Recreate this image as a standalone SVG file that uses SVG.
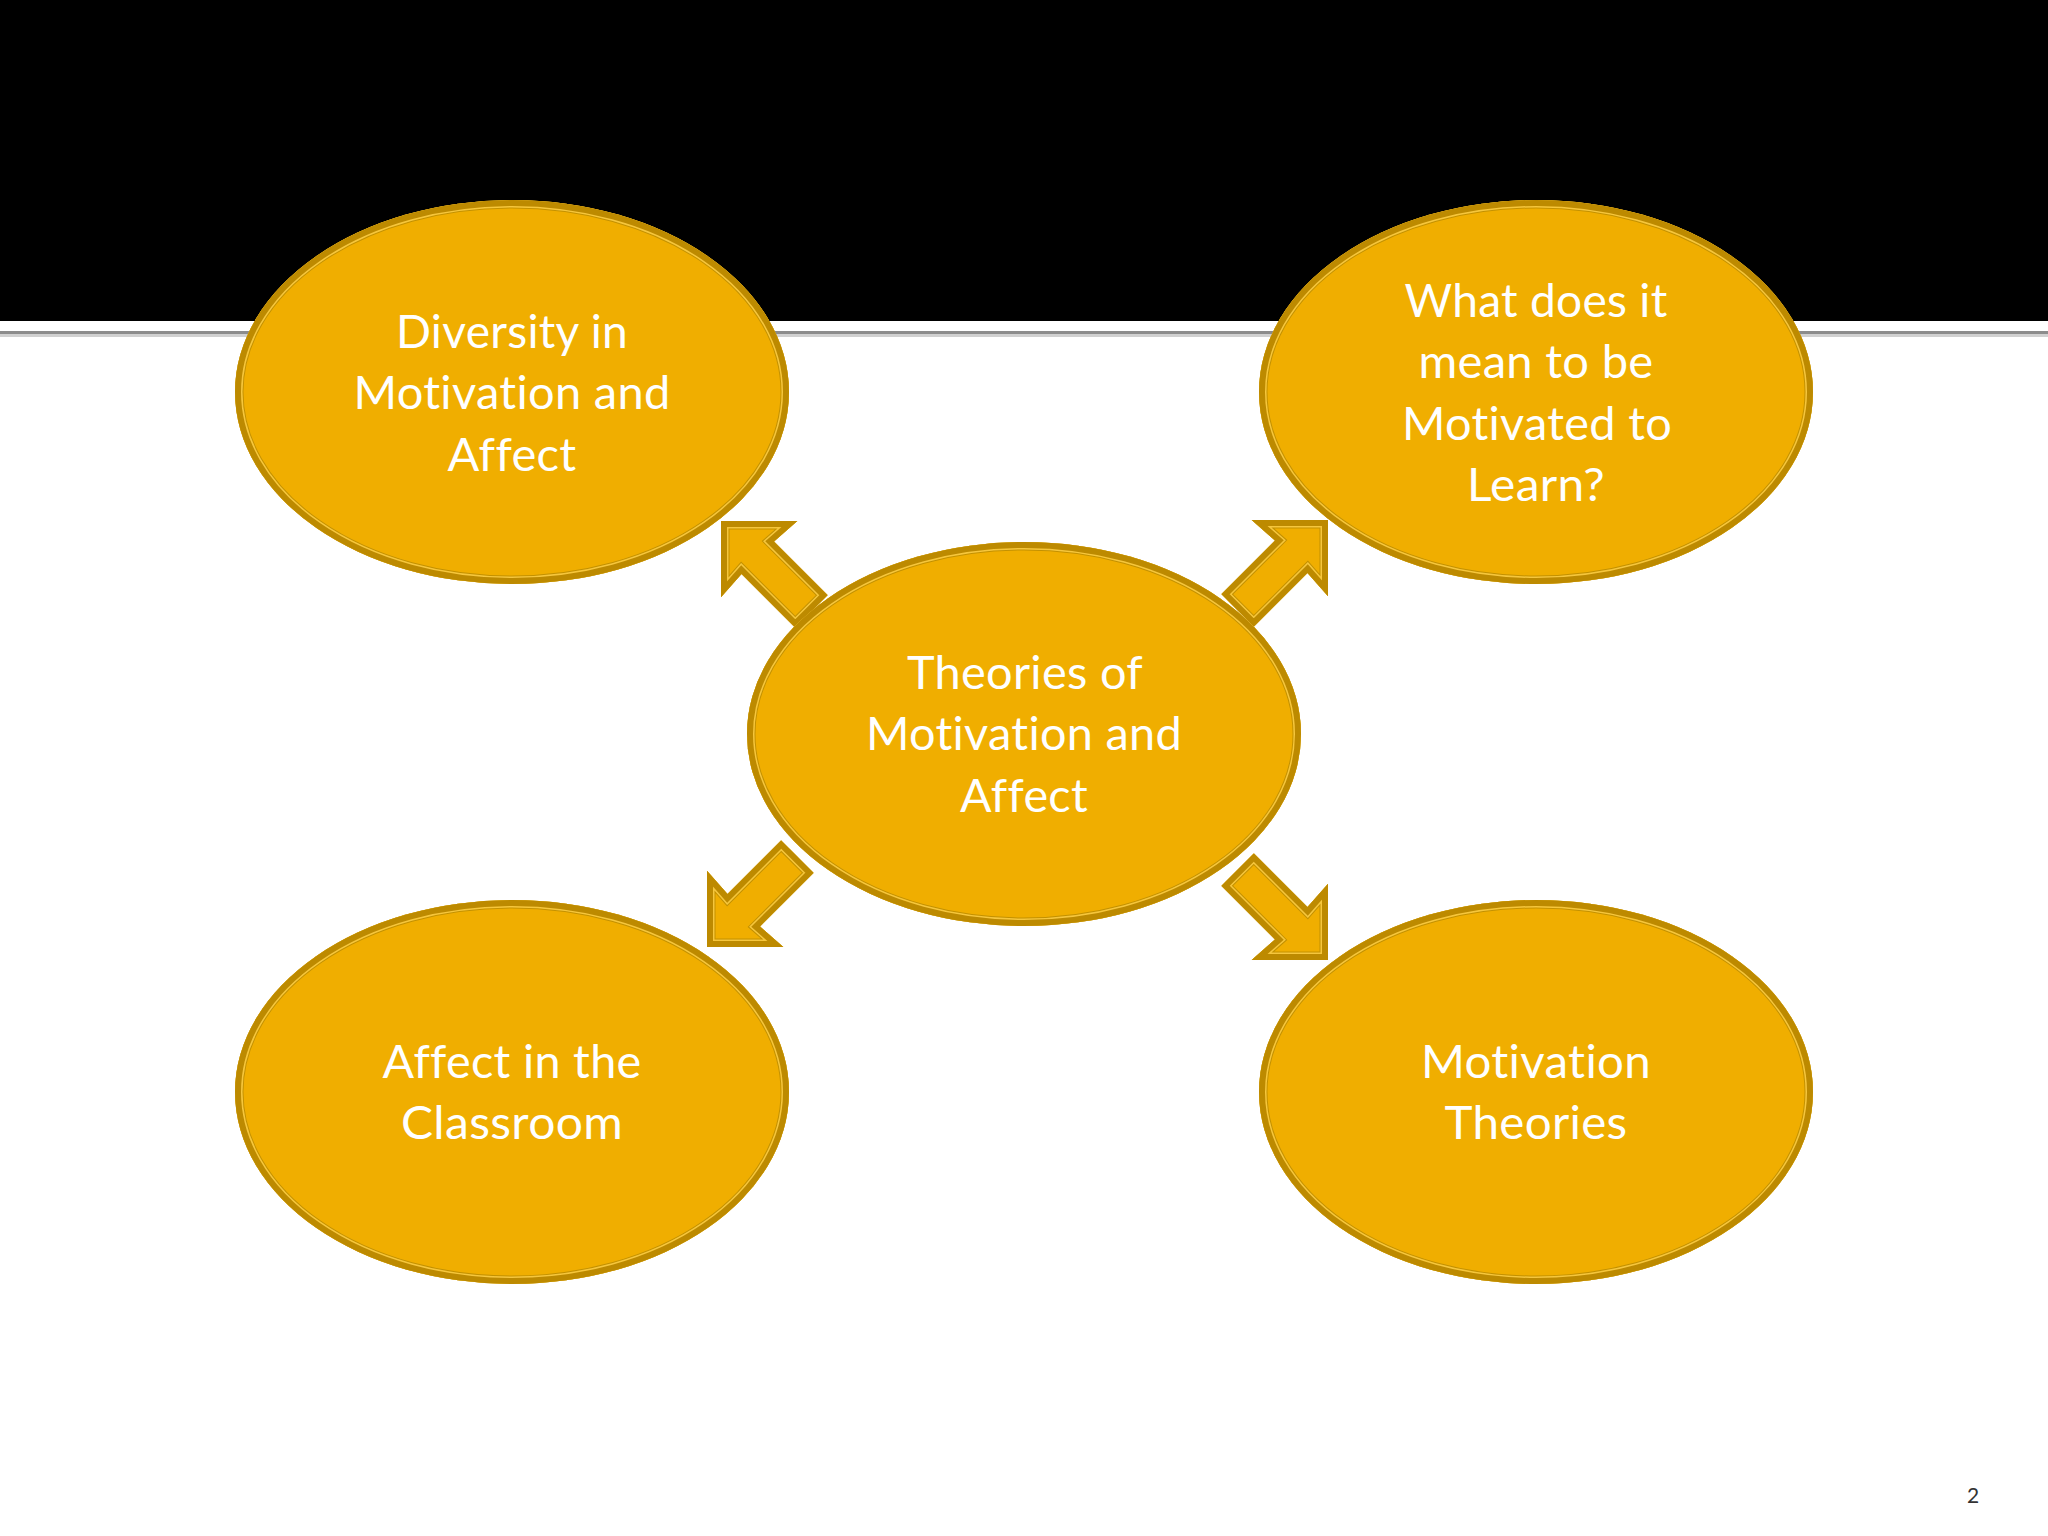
<svg xmlns="http://www.w3.org/2000/svg" xmlns:xlink="http://www.w3.org/1999/xlink" width="2048" height="1536" viewBox="0 0 2048 1536">
  <style>
    .fill { fill: #F0AE00; }
    .b1 { fill: none; stroke: #C39100; stroke-width: 17; stroke-linejoin: miter; }
    .b2 { fill: none; stroke: #F6C63C; stroke-width: 15; stroke-linejoin: miter; }
    .b3 { fill: none; stroke: #BD8A00; stroke-width: 12; stroke-linejoin: miter; }
    .lbl { font-family: Lato, "Open Sans", "Liberation Sans", sans-serif; font-size: 46px; fill: #FFFFFF; text-anchor: middle; letter-spacing: 0.3px; font-variant-ligatures: none; font-feature-settings: "liga" 0, "clig" 0, "dlig" 0; }
    .pg { font-family: Lato, "Liberation Sans", sans-serif; font-size: 21px; fill: #333333; text-anchor: middle; }
  </style>
  <defs>
    <ellipse id="ell" cx="0" cy="0" rx="277" ry="192"/>
    <clipPath id="ellClip"><use xlink:href="#ell" href="#ell"/></clipPath>
    <polygon id="arr" points="0,0 -54,-54 -52,-23 -128,-23 -128,23 -52,23 -54,54"/>
    <clipPath id="arrClip"><use xlink:href="#arr" href="#arr"/></clipPath>
    <g id="ellShape">
      <g clip-path="url(#ellClip)">
        <use xlink:href="#ell" href="#ell" class="fill"/>
        <use xlink:href="#ell" href="#ell" class="b1"/>
        <use xlink:href="#ell" href="#ell" class="b2"/>
        <use xlink:href="#ell" href="#ell" class="b3"/>
      </g>
    </g>
    <g id="arrShape">
      <g clip-path="url(#arrClip)">
        <use xlink:href="#arr" href="#arr" class="fill"/>
        <use xlink:href="#arr" href="#arr" class="b1"/>
        <use xlink:href="#arr" href="#arr" class="b2"/>
        <use xlink:href="#arr" href="#arr" class="b3"/>
      </g>
    </g>
  </defs>

  <rect x="0" y="0" width="2048" height="1536" fill="#FFFFFF"/>
  <rect x="0" y="0" width="2048" height="321" fill="#000000"/>
  <rect x="0" y="331" width="2048" height="3" fill="#8C8C8C"/>
  <rect x="0" y="334" width="2048" height="3" fill="#D0D0D0"/>

  <g id="connectors">
    <use xlink:href="#arrShape" href="#arrShape" transform="translate(721,521) rotate(225)"/>
    <use xlink:href="#arrShape" href="#arrShape" transform="translate(1328,520) rotate(-45)"/>
    <use xlink:href="#arrShape" href="#arrShape" transform="translate(707,947) rotate(135)"/>
    <use xlink:href="#arrShape" href="#arrShape" transform="translate(1328,960) rotate(45)"/>
  </g>

  <g id="node-diversity">
    <use xlink:href="#ellShape" href="#ellShape" transform="translate(512,392)"/>
    <text class="lbl" x="512" y="348" textLength="232" lengthAdjust="spacingAndGlyphs">Diversity in</text>
    <text class="lbl" x="512" y="409" textLength="317" lengthAdjust="spacingAndGlyphs">Motivation and</text>
    <text class="lbl" x="512" y="471" textLength="129" lengthAdjust="spacingAndGlyphs">Affect</text>
  </g>

  <g id="node-what">
    <use xlink:href="#ellShape" href="#ellShape" transform="translate(1536,392)"/>
    <text class="lbl" x="1536" y="317" textLength="263" lengthAdjust="spacingAndGlyphs">What does it</text>
    <text class="lbl" x="1536" y="378" textLength="235" lengthAdjust="spacingAndGlyphs">mean to be</text>
    <text class="lbl" x="1537" y="440" textLength="270" lengthAdjust="spacingAndGlyphs">Motivated to</text>
    <text class="lbl" x="1536" y="501" textLength="138" lengthAdjust="spacingAndGlyphs">Learn?</text>
  </g>

  <g id="node-center">
    <use xlink:href="#ellShape" href="#ellShape" transform="translate(1024,734)"/>
    <text class="lbl" x="1025" y="689" textLength="236" lengthAdjust="spacingAndGlyphs">Theories of</text>
    <text class="lbl" x="1024" y="750" textLength="316" lengthAdjust="spacingAndGlyphs">Motivation and</text>
    <text class="lbl" x="1024" y="812" textLength="128" lengthAdjust="spacingAndGlyphs">Affect</text>
  </g>

  <g id="node-affect">
    <use xlink:href="#ellShape" href="#ellShape" transform="translate(512,1092)"/>
    <text class="lbl" x="512" y="1078" textLength="259" lengthAdjust="spacingAndGlyphs">Affect in the</text>
    <text class="lbl" x="512" y="1139" textLength="222" lengthAdjust="spacingAndGlyphs">Classroom</text>
  </g>

  <g id="node-theories">
    <use xlink:href="#ellShape" href="#ellShape" transform="translate(1536,1092)"/>
    <text class="lbl" x="1536" y="1078" textLength="230" lengthAdjust="spacingAndGlyphs">Motivation</text>
    <text class="lbl" x="1536" y="1139" textLength="183" lengthAdjust="spacingAndGlyphs">Theories</text>
  </g>

  <text class="pg" x="1973" y="1503">2</text>
</svg>
